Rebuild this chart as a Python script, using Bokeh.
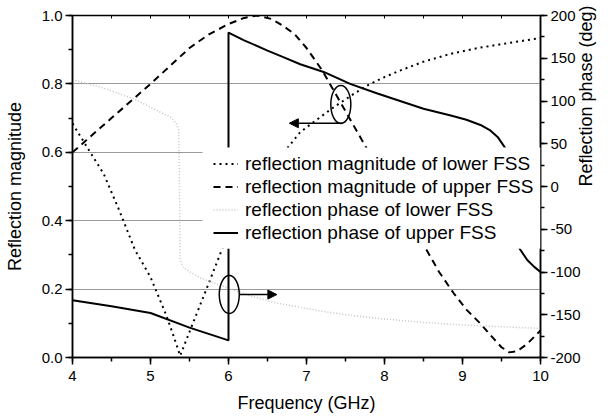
import math
from bokeh.plotting import figure
from bokeh.models import (Range1d, LinearAxis, SingleIntervalTicker, FixedTicker,
                          PrintfTickFormatter, Arrow, NormalHead, BoxAnnotation,
                          Legend, LegendItem)
from bokeh.embed import file_html
from bokeh.resources import INLINE

# ---- data ----
mag_lower_f = [4.0, 4.2, 4.4, 4.6, 4.8, 5.0, 5.2, 5.3, 5.38, 5.5, 5.7, 5.92, 6.2, 6.5,
               6.76, 6.92, 7.1, 7.35, 7.6, 7.8, 8.0, 8.2, 8.5, 8.85, 9.2, 9.6, 10.0]
mag_lower = [0.684, 0.61, 0.537, 0.43, 0.315, 0.235, 0.125, 0.06, 0.005, 0.075, 0.19,
             0.318, 0.43, 0.53, 0.614, 0.659, 0.69, 0.732, 0.77, 0.798, 0.82, 0.839,
             0.865, 0.888, 0.905, 0.92, 0.934]

mag_upper_f = [4.0, 4.5, 5.0, 5.5, 5.75, 6.0, 6.2, 6.37, 6.55, 6.7, 6.85, 7.0, 7.2, 7.4,
               7.6, 7.8, 8.0, 8.2, 8.4, 8.53, 8.7, 8.89, 9.05, 9.23, 9.4, 9.5, 9.6, 9.7,
               9.83, 10.0]
mag_upper = [0.60, 0.70, 0.80, 0.905, 0.945, 0.975, 0.993, 1.0, 0.99, 0.97, 0.945, 0.905,
             0.84, 0.76, 0.68, 0.60, 0.52, 0.445, 0.37, 0.318, 0.25, 0.187, 0.14, 0.099,
             0.055, 0.03, 0.015, 0.018, 0.04, 0.079]

phase_lower_f = [4.0, 4.4, 4.8, 5.1, 5.26, 5.33, 5.36, 5.37, 5.375, 5.38, 5.42, 5.51,
                 5.64, 5.85, 6.0, 6.28, 6.6, 7.14, 7.5, 8.0, 8.5, 9.0, 9.5, 10.0]
phase_lower = [125, 115, 102, 88, 81, 74, 66, 20, -40, -85, -95, -100, -107, -114, -119,
               -128, -136, -145, -150, -155, -159, -162, -164, -166]

phase_upper_f = [4.0, 4.5, 5.0, 5.5, 6.0, 6.0, 6.2, 6.5, 6.71, 6.92, 7.22, 7.56, 7.9, 8.2,
                 8.5, 8.85, 9.05, 9.23, 9.35, 9.45, 9.54, 9.6, 9.66, 9.72, 9.83, 9.92, 10.0]
phase_upper = [-133, -140, -148, -165, -180, 180, 171, 159, 151, 143, 134, 120, 109, 100,
               91, 83, 78, 72, 66, 58, 46, 25, -30, -71, -86, -94, -100]

labels = ["reflection magnitude of lower FSS",
          "reflection magnitude of upper FSS",
          "reflection phase of lower FSS",
          "reflection phase of upper FSS"]

FONT = "Liberation Sans"

p = figure(width=608, height=420, output_backend="svg", toolbar_location=None,
           x_range=Range1d(4, 10), y_range=Range1d(0, 1),
           min_border_left=72, min_border_right=68, min_border_top=15,
           min_border_bottom=63, background_fill_color="white",
           border_fill_color="white")
p.extra_y_ranges = {"phase": Range1d(-200, 200)}

p.outline_line_color = "black"
p.outline_line_width = 1.5

p.xgrid.visible = False
p.ygrid.ticker = FixedTicker(ticks=[0.2, 0.4, 0.6, 0.8])
p.ygrid.grid_line_color = "#9a9a9a"
p.ygrid.grid_line_width = 1


def style(ax, tick_px):
    ax.axis_line_color = "black"
    ax.axis_line_width = 1.5
    ax.major_tick_line_color = "black"
    ax.major_tick_line_width = 1.5
    ax.minor_tick_line_color = "black"
    ax.minor_tick_line_width = 1.5
    ax.major_tick_in = 0
    ax.major_tick_out = 7
    ax.minor_tick_in = 0
    ax.minor_tick_out = 4
    ax.major_label_text_font = FONT
    ax.major_label_text_font_size = tick_px
    ax.major_label_text_color = "black"
    ax.axis_label_text_font = FONT
    ax.axis_label_text_font_size = "18px"
    ax.axis_label_text_font_style = "normal"
    ax.axis_label_text_color = "black"


xa = p.xaxis[0]
xa.ticker = SingleIntervalTicker(interval=1, num_minor_ticks=2)
xa.axis_label = "Frequency (GHz)"
style(xa, "15px")
xa.major_label_standoff = 6
xa.axis_label_standoff = 9

ya = p.yaxis[0]
ya.ticker = SingleIntervalTicker(interval=0.2, num_minor_ticks=2)
ya.formatter = PrintfTickFormatter(format="%.1f")
ya.axis_label = "Reflection magnitude"
style(ya, "15px")
ya.major_label_standoff = 3
ya.axis_label_standoff = 14

ra = LinearAxis(y_range_name="phase",
                ticker=SingleIntervalTicker(interval=50, num_minor_ticks=2),
                formatter=PrintfTickFormatter(format="%d"),
                axis_label="Reflection phase (deg)")
style(ra, "15px")
ra.major_label_standoff = 3
ra.axis_label_standoff = 2
ra.axis_label_orientation = math.pi / 2
p.add_layout(ra, "right")

ta = LinearAxis(ticker=SingleIntervalTicker(interval=0.5, num_minor_ticks=0))
ta.axis_line_color = None
ta.major_tick_in = 3
ta.major_tick_out = 0
ta.major_tick_line_color = "black"
ta.major_tick_line_width = 1
ta.minor_tick_line_color = None
ta.major_label_text_font_size = "1px"
ta.major_label_text_color = None
ta.major_label_standoff = 0
p.add_layout(ta, "above")

r1 = p.line(mag_lower_f, mag_lower, line_color="black", line_width=2, line_dash="2 4")
r2 = p.line(mag_upper_f, mag_upper, line_color="black", line_width=2, line_dash="7 5")
r3 = p.line(phase_lower_f, phase_lower, y_range_name="phase", line_color="#c4c4c4",
            line_width=1.5, line_dash="1 2")
r4 = p.line(phase_upper_f, phase_upper, y_range_name="phase", line_color="black",
            line_width=2)

# annotation ellipses and arrows
p.ellipse(x=[7.44], y=[0.74], width=20, height=38, width_units="screen",
          height_units="screen", fill_color=None, line_color="black", line_width=1.5)
p.ellipse(x=[6.01], y=[0.184], width=20, height=38, width_units="screen",
          height_units="screen", fill_color=None, line_color="black", line_width=1.5)
p.add_layout(Arrow(end=NormalHead(size=9, fill_color="black", line_color="black"),
                   x_start=7.46, y_start=0.685, x_end=6.78, y_end=0.685,
                   line_color="black", line_width=1.5))
p.add_layout(Arrow(end=NormalHead(size=9, fill_color="black", line_color="black"),
                   x_start=6.14, y_start=0.184, x_end=6.62, y_end=0.184,
                   line_color="black", line_width=1.5))

# white area behind the legend
box = BoxAnnotation(left=5.667, right=10, bottom=0.318, top=0.614,
                    fill_color="white", fill_alpha=1.0, line_color=None, level="guide")
p.add_layout(box)

legend = Legend(items=[LegendItem(label=l, renderers=[r]) for l, r in
                       zip(labels, [r1, r2, r3, r4])],
                location=(136, 108), background_fill_alpha=0, border_line_alpha=0,
                padding=5, margin=0, spacing=0, glyph_width=25, glyph_height=23,
                label_height=23, label_standoff=7, label_text_font=FONT,
                label_text_font_size="19px", label_text_color="black")
p.add_layout(legend)

open("out.html", "w").write(file_html(p, INLINE))
